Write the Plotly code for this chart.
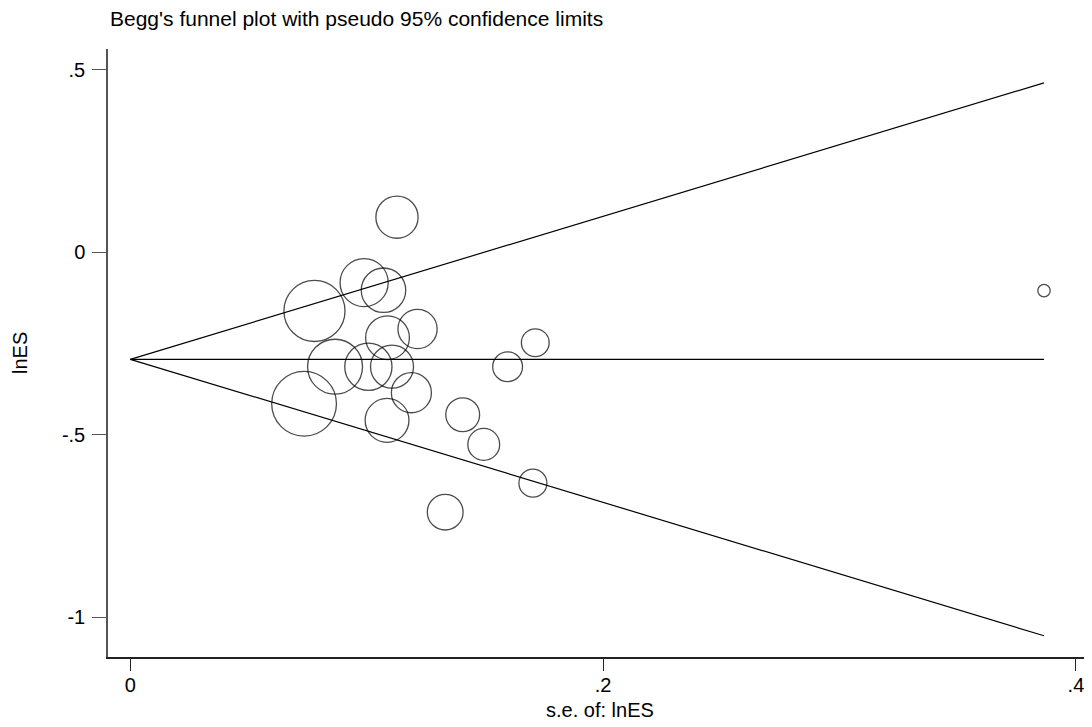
import plotly.graph_objects as go

# Data (s.e. of lnES, lnES)
se = [0.1128, 0.0989, 0.1071, 0.0779, 0.1088, 0.1215, 0.0866, 0.1007, 0.1107, 0.1189,
      0.0735, 0.1086, 0.1406, 0.1495, 0.1596, 0.1713, 0.1703, 0.1332, 0.3865]
lnes = [0.0960, -0.0834, -0.1042, -0.1610, -0.2342, -0.2104, -0.3138, -0.3138, -0.3138, -0.3851,
        -0.4153, -0.4608, -0.4454, -0.5266, -0.3138, -0.2479, -0.6328, -0.7123, -0.1053]
pooled = -0.2935
x_ticks = [0, 0.2, 0.4]
x_ticktext = ["0", ".2", ".4"]
y_ticks = [0.5, 0, -0.5, -1]
y_ticktext = [".5", "0", "-.5", "-1"]

FONT = "Liberation Sans, Arial, sans-serif"

max_se = max(se)
fig = go.Figure()
# pseudo 95% confidence limits
fig.add_trace(go.Scatter(x=[0, max_se], y=[pooled, pooled + 1.96 * max_se], mode="lines",
                         line=dict(color="black", width=1.2), showlegend=False, hoverinfo="skip"))
fig.add_trace(go.Scatter(x=[0, max_se], y=[pooled, pooled - 1.96 * max_se], mode="lines",
                         line=dict(color="black", width=1.2), showlegend=False, hoverinfo="skip"))
fig.add_trace(go.Scatter(x=[0, max_se], y=[pooled, pooled], mode="lines",
                         line=dict(color="black", width=1.2), showlegend=False, hoverinfo="skip"))
# studies: marker area proportional to 1/se^2
fig.add_trace(go.Scatter(x=se, y=lnes, mode="markers",
                         marker=dict(symbol="circle", size=[4.76 / s for s in se],
                                     color="rgba(0,0,0,0)",
                                     line=dict(color="black", width=1.3)),
                         showlegend=False))

fig.update_layout(
    width=1092, height=727,
    margin=dict(l=100, r=8, t=41, b=78),
    paper_bgcolor="white", plot_bgcolor="white",
    font=dict(family=FONT, size=20, color="black"),
    xaxis=dict(range=[-0.00944, 0.4068], tickvals=x_ticks, ticktext=x_ticktext,
               showgrid=False, zeroline=False, showline=True, linecolor="#222", linewidth=1.5,
               ticks="outside", ticklen=12, tickwidth=1, tickcolor="#222",
               automargin=False, ticklabelstandoff=-3),
    yaxis=dict(range=[-1.1092, 0.5568], tickvals=y_ticks, ticktext=y_ticktext,
               showgrid=False, zeroline=False, showline=True, linecolor="#555", linewidth=1.5,
               ticks="outside", ticklen=14, tickwidth=1, tickcolor="#555",
               automargin=False, ticklabelstandoff=3),
    annotations=[
        dict(text="Begg's funnel plot with pseudo 95% confidence limits",
             xref="paper", yref="paper", x=0, y=1 + (49 - 19) / 608,
             xanchor="left", yanchor="middle", showarrow=False,
             font=dict(family=FONT, size=21, color="black")),
        dict(text="s.e. of: lnES", xref="paper", yref="paper", x=0.5, y=(657 - 710) / 608,
             xanchor="center", yanchor="middle", showarrow=False,
             font=dict(family=FONT, size=20, color="black")),
        dict(text="lnES", xref="paper", yref="paper", x=(20 - 108) / 984, y=0.5,
             xanchor="center", yanchor="middle", textangle=-90, showarrow=False,
             font=dict(family=FONT, size=20, color="black")),
    ],
)

fig.write_html("out.html")
